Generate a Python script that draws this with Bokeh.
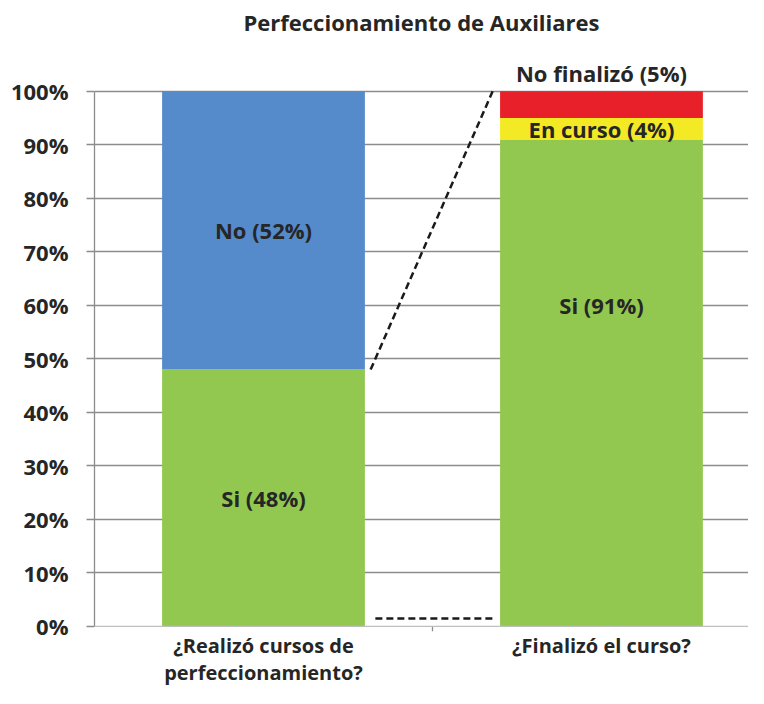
from bokeh.plotting import figure
from bokeh.models import FixedTicker, LinearAxis, Range1d, NumeralTickFormatter, ColumnDataSource, Span
from bokeh.core.properties import value
from bokeh.embed import file_html
from bokeh.resources import INLINE

title = "Perfeccionamiento de Auxiliares"
categories = ["¿Realizó cursos de\nperfeccionamiento?", "¿Finalizó el curso?"]
cat_x = [0.5, 1.5]
cat_boundary = [1.0]

# left bar
left_si = 0.48
left_no = 0.52
# right bar
right_si = 0.91
right_curso = 0.04
right_nofin = 0.05

labels = ["Si (48%)", "No (52%)", "Si (91%)", "En curso (4%)", "No finalizó (5%)"]
label_y = [left_si / 2, left_si + left_no / 2, 0.60,
           right_si + right_curso / 2, 1.035]
label_x = [cat_x[0], cat_x[0], cat_x[1], cat_x[1], cat_x[1]]

GREEN = "#92C84F"
BLUE = "#558BCB"
YELLOW = "#F3EA25"
RED = "#E8202A"
TXT = "#262626"
GRID = "#8C8C8C"
AXIS = "#BFBFBF"
FONT = "Open Sans"

W, H = 748, 688
bar_w = 0.6
tick_len = 0.0095  # space below 0 inside the frame, used for the separator tick

p = figure(width=W, height=H, output_backend="svg", toolbar_location=None,
           x_range=Range1d(0, 1.935), y_range=Range1d(-tick_len, 1.095),
           min_border_left=94, min_border_right=0, min_border_top=0, min_border_bottom=52,
           x_axis_location=None, y_axis_location=None)
p.outline_line_color = None
p.background_fill_color = "white"

p.title.text = title
p.title.align = "center"
p.title.text_font = FONT
p.title.text_font_size = "22px"
p.title.text_font_style = "bold"
p.title.text_color = TXT
p.title.standoff = 8

yticks = [i / 10 for i in range(11)]
yaxis = LinearAxis(ticker=FixedTicker(ticks=yticks), bounds=(0, 1),
                   formatter=NumeralTickFormatter(format="0%"))
yaxis.axis_line_color = GRID
yaxis.axis_line_width = 1.3
yaxis.major_tick_line_color = GRID
yaxis.major_tick_line_width = 1.3
yaxis.major_tick_out = 8
yaxis.major_tick_in = 0
yaxis.minor_tick_line_color = None
yaxis.major_label_text_font = FONT
yaxis.major_label_text_font_style = "bold"
yaxis.major_label_text_font_size = "22px"
yaxis.major_label_text_color = TXT
yaxis.major_label_standoff = 18
p.add_layout(yaxis, "left")

p.ygrid.ticker = FixedTicker(ticks=yticks[1:])
p.ygrid.grid_line_color = GRID
p.ygrid.grid_line_width = 1.3
p.xgrid.grid_line_color = None

# category axis line at 0 and separator tick
p.add_layout(Span(location=0, dimension="width", line_color=AXIS, line_width=1.3))
p.segment(x0=cat_boundary, y0=[0], x1=cat_boundary, y1=[-tick_len],
          line_color=GRID, line_width=1.3)

# bottom axis: category labels
xaxis = LinearAxis(ticker=FixedTicker(ticks=cat_x),
                   major_label_overrides={cat_x[0]: categories[0], cat_x[1]: categories[1]})
xaxis.axis_line_color = None
xaxis.major_tick_line_color = None
xaxis.minor_tick_line_color = None
xaxis.major_tick_out = 0
xaxis.major_tick_in = 0
xaxis.major_label_text_font = FONT
xaxis.major_label_text_font_style = "bold"
xaxis.major_label_text_font_size = "20px"
xaxis.major_label_text_line_height = 1.0
xaxis.major_label_text_color = TXT
xaxis.major_label_standoff = 0
p.add_layout(xaxis, "below")

# stacked bars
p.vbar(x=[cat_x[0]], bottom=[0], top=[left_si], width=bar_w, fill_color=GREEN, line_color=None)
p.vbar(x=[cat_x[0]], bottom=[left_si], top=[left_si + left_no], width=bar_w, fill_color=BLUE, line_color=None)
p.vbar(x=[cat_x[1]], bottom=[0], top=[right_si], width=bar_w, fill_color=GREEN, line_color=None)
p.vbar(x=[cat_x[1]], bottom=[right_si], top=[right_si + right_curso], width=bar_w, fill_color=YELLOW, line_color=None)
p.vbar(x=[cat_x[1]], bottom=[right_si + right_curso], top=[right_si + right_curso + right_nofin],
       width=bar_w, fill_color=RED, line_color=None)

# connector lines
x0 = cat_x[0] + bar_w / 2 + 0.017
x1 = cat_x[1] - bar_w / 2 - 0.022
p.segment(x0=[x0], y0=[left_si], x1=[x1], y1=[left_si + left_no],
          line_color="#1a1a1a", line_width=2.5, line_dash="7 4")
p.segment(x0=[x0 + 0.014], y0=[0.015], x1=[x1], y1=[0.015],
          line_color="#1a1a1a", line_width=2.5, line_dash="7 4")

src = ColumnDataSource(dict(x=label_x, y=label_y, t=labels))
p.text(x="x", y="y", text="t", source=src, text_align="center", text_baseline="middle",
       text_font=value(FONT), text_font_style="bold", text_font_size="22px", text_color=TXT)

open("out.html", "w").write(file_html(p, INLINE))
